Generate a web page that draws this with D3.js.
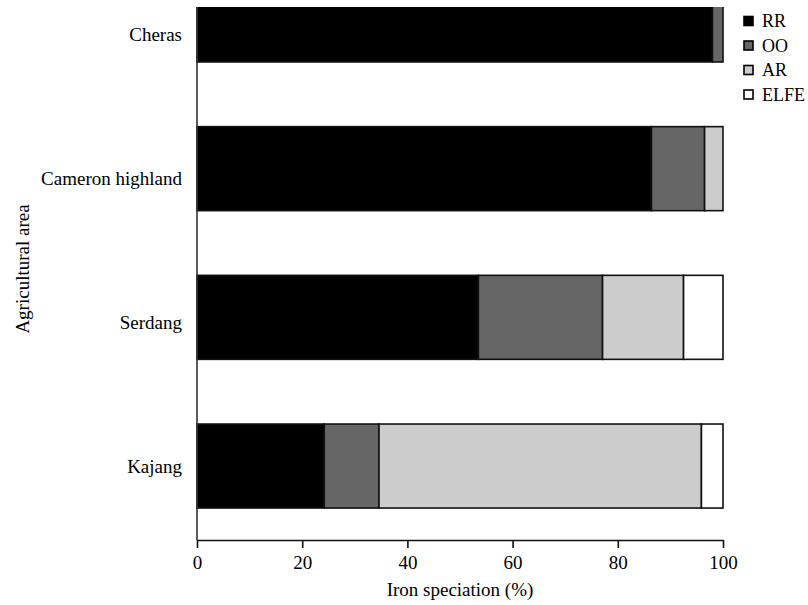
<!DOCTYPE html>
<html>
<head>
<meta charset="utf-8">
<script src="https://cdn.jsdelivr.net/npm/d3@7"></script>
<style>
  body { margin: 0; background: #fff; }
  text { font-family: "Liberation Serif", "Times New Roman", serif; fill: #000; }
</style>
</head>
<body>
<div id="chart"></div>
<script>
// iron speciation by agricultural area (%)
var areas = ["Cheras", "Cameron highland", "Serdang", "Kajang"];
var fractions = ["RR", "OO", "AR", "ELFE"];
var rr   = [98.0, 86.4, 53.5, 24.2];
var oo   = [2.0, 10.1, 23.6, 10.4];
var ar   = [0.0, 3.5, 15.4, 61.3];
var elfe = [0.0, 0.0, 7.5, 4.1];
var xTicks = [0, 20, 40, 60, 80, 100];

var colors = ["#000000", "#666666", "#cccccc", "#ffffff"];

var svgWidth = 808, svgHeight = 605;
var plotLeft = 197, plotRight = 723, plotTop = 7, plotBottom = 540;

var svg = d3.select('#chart').append('svg')
  .attr('width', svgWidth)
  .attr('height', svgHeight);

// table for the stack
var rows = areas.map(function(a, i) {
  return { area: a, RR: rr[i], OO: oo[i], AR: ar[i], ELFE: elfe[i] };
});

var x = d3.scaleLinear()
  .domain([0, 100])
  .range([plotLeft, plotRight]);

// the top band runs past the plot top and gets clipped, like the original
var y = d3.scaleBand()
  .domain(areas)
  .range([-54, plotBottom])
  .paddingInner(0.435)
  .paddingOuter(0.215);

// labels sit on an even spacing of their own
var yLabel = d3.scalePoint()
  .domain(areas)
  .range([34, 466]);

var color = d3.scaleOrdinal().domain(fractions).range(colors);

var series = d3.stack().keys(fractions)(rows);

svg.append('clipPath')
  .attr('id', 'plot-clip')
  .append('rect')
  .attr('x', 0)
  .attr('y', plotTop)
  .attr('width', svgWidth)
  .attr('height', plotBottom - plotTop);

var bars = svg.append('g').attr('clip-path', 'url(#plot-clip)');

bars.selectAll('g')
  .data(series)
  .enter().append('g')
  .attr('fill', function(d) { return color(d.key); })
  .selectAll('rect')
  .data(function(d) { return d.filter(function(s) { return s[1] - s[0] > 0; }); })
  .enter().append('rect')
  .attr('x', function(d) { return x(d[0]); })
  .attr('width', function(d) { return x(d[1]) - x(d[0]); })
  .attr('y', function(d) { return y(d.data.area); })
  .attr('height', y.bandwidth())
  .attr('stroke', '#111')
  .attr('stroke-width', 1.6);

// x axis
var xAxis = svg.append('g')
  .attr('transform', 'translate(0,' + plotBottom + ')')
  .call(d3.axisBottom(x).tickValues(xTicks).tickSize(8).tickSizeOuter(0).tickPadding(8));
xAxis.select('.domain').attr('stroke', '#111').attr('stroke-width', 1.6);
xAxis.selectAll('.tick line').attr('stroke', '#111').attr('stroke-width', 1.6);
xAxis.selectAll('.tick text')
  .style('font-family', '"Liberation Serif", serif')
  .style('font-size', '19px')
  .attr('fill', '#000');

// y axis line
svg.append('line')
  .attr('x1', plotLeft).attr('x2', plotLeft)
  .attr('y1', plotTop).attr('y2', plotBottom)
  .attr('stroke', '#333')
  .attr('stroke-width', 1.6);

// category labels
svg.append('g').selectAll('text')
  .data(areas)
  .enter().append('text')
  .attr('x', 182)
  .attr('y', function(d) { return yLabel(d); })
  .attr('dy', '0.35em')
  .attr('text-anchor', 'end')
  .style('font-size', '19px')
  .text(function(d) { return d; });

// axis titles
svg.append('text')
  .attr('x', (plotLeft + plotRight) / 2)
  .attr('y', 596)
  .attr('text-anchor', 'middle')
  .style('font-size', '19px')
  .text('Iron speciation (%)');

svg.append('text')
  .attr('transform', 'translate(22,269) rotate(-90)')
  .attr('dy', '0.35em')
  .attr('text-anchor', 'middle')
  .style('font-size', '19px')
  .text('Agricultural area');

// legend
var legend = svg.append('g').selectAll('g')
  .data(fractions)
  .enter().append('g')
  .attr('transform', function(d, i) { return 'translate(744,' + (21 + i * 24.5) + ')'; });

legend.append('rect')
  .attr('x', 0).attr('y', -4.5)
  .attr('width', 9).attr('height', 9)
  .attr('fill', function(d) { return color(d); })
  .attr('stroke', '#000')
  .attr('stroke-width', 1.6);

legend.append('text')
  .attr('x', 18)
  .attr('dy', '0.35em')
  .style('font-size', '18px')
  .text(function(d) { return d; });
</script>
</body>
</html>
